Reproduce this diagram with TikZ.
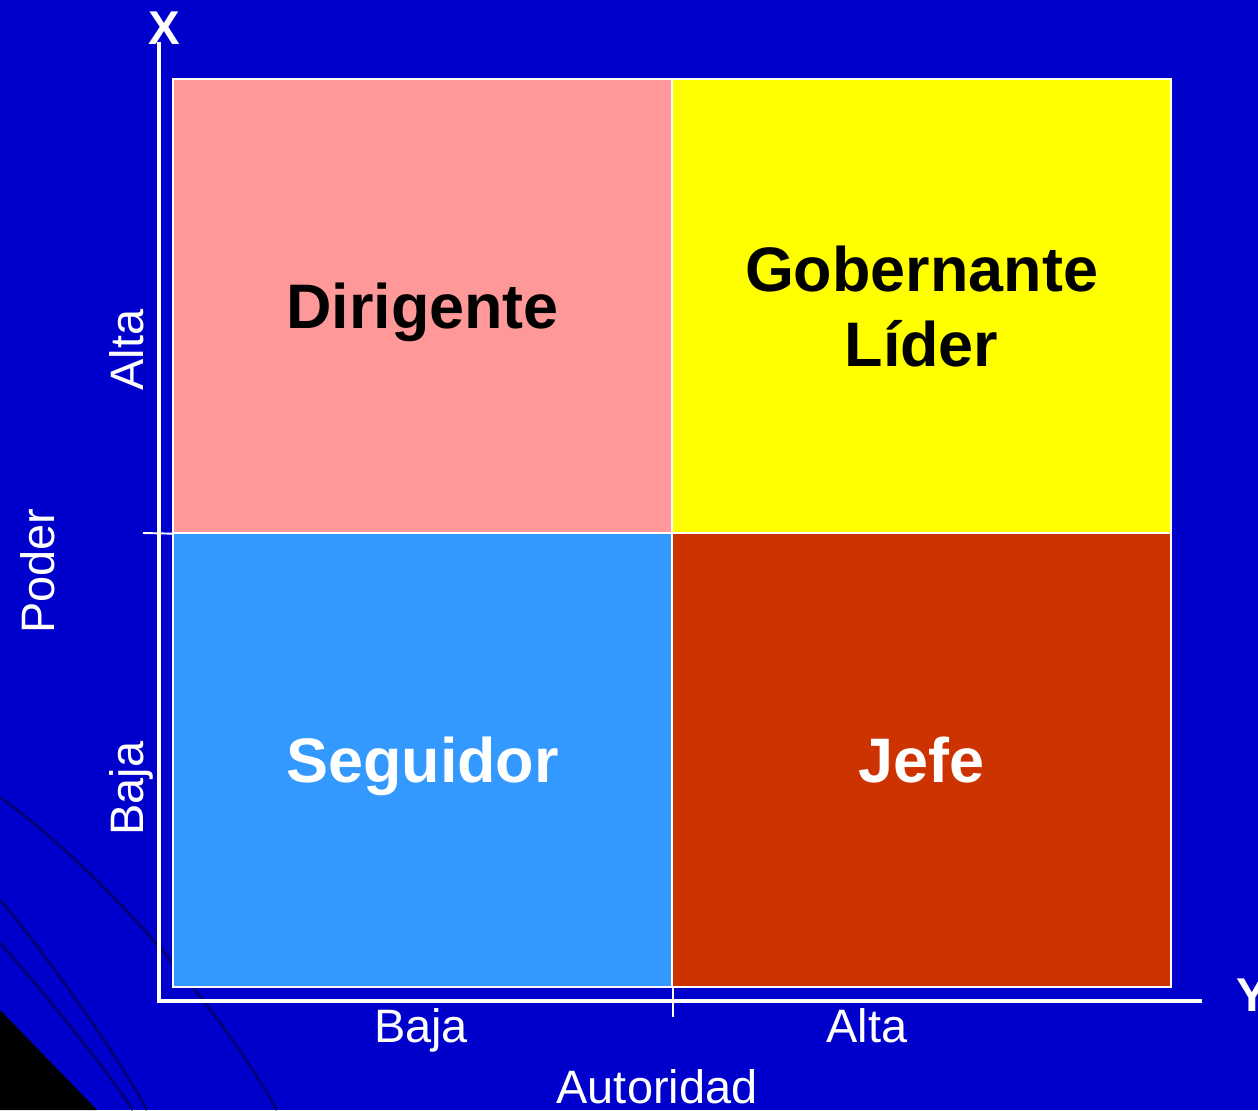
\documentclass[tikz,border=0pt]{standalone}
\usepackage{fontspec}
\setmainfont{Liberation Sans}
\definecolor{bgblue}{HTML}{0000CC}
\definecolor{swirlblue}{HTML}{00007A}
\definecolor{quadpink}{HTML}{FF9999}
\definecolor{quadyellow}{HTML}{FFFF00}
\definecolor{quadblue}{HTML}{3399FF}
\definecolor{quadred}{HTML}{CC3300}
\begin{document}
\begin{tikzpicture}[x=0.02cm, y=0.02cm,
    quad/.style={draw=white, line width=0.8pt, inner sep=0pt,
      minimum width=9.98cm, minimum height=9.08cm, align=center,
      text depth=0pt, font=\fontsize{35.8}{43}\selectfont\bfseries},
    axisline/.style={draw=white, line width=2.8pt},
    tickline/.style={draw=white, line width=1.1pt},
    lbl/.style={text=white, inner sep=0pt, font=\fontsize{26.7}{32}\selectfont},
    axisname/.style={text=white, inner sep=0pt, font=\fontsize{27}{32}\selectfont\bfseries},
    swirl/.style={draw=swirlblue, line width=1.6pt}]
  % background
  \fill[bgblue] (0,0) rectangle (1258,1110);
  \useasboundingbox (0,0) rectangle (1258,1110);
  \fill[black] (0,100) -- (0,0) -- (97,0) -- cycle;
  \draw[swirl] (0,313) .. controls (100,240) and (215,110) .. (277,0);
  \draw[swirl] (0,210) .. controls (35,170) and (115,60) .. (147,0);
  \draw[swirl] (0,167) .. controls (25,140) and (100,50) .. (133,0);
  % quadrants
  \node[quad, fill=quadpink] (dirigente) at (422.5,804) {Dirigente};
  \node[quad, fill=quadyellow] (gobernante) at (921.5,804) {Gobernante\\L\'ider};
  \node[quad, fill=quadblue, text=white] (seguidor) at (422.5,350) {Seguidor};
  \node[quad, fill=quadred, text=white] (jefe) at (921.5,350) {Jefe};
  % axes
  \coordinate (origin) at (159,109);
  \coordinate (xtop) at (159,1068);
  \coordinate (yend) at (1202,109);
  \draw[axisline] (xtop) -- (origin) -- (yend);
  \draw[tickline] (143,577) -- (dirigente.south west);
  \draw[tickline] (dirigente.south east |- 0,93) -- (dirigente.south east |- jefe.south);
  \node[axisname] (xname) at (164,1082) {X};
  \node[axisname] (yname) at (1252,115) {Y};
  % labels
  \node[lbl, rotate=90, anchor=base] (altaleft) at (143,760) {Alta};
  \node[lbl, rotate=90, anchor=base] (bajaleft) at (143,321.5) {Baja};
  \node[lbl, rotate=90, anchor=base] (poder) at (55,539) {Poder};
  \node[lbl, anchor=base] (bajabottom) at (421,68) {Baja};
  \node[lbl, anchor=base] (altabottom) at (867,68) {Alta};
  \node[lbl, anchor=base] (autoridad) at (657,7) {Autoridad};
\end{tikzpicture}
\end{document}
